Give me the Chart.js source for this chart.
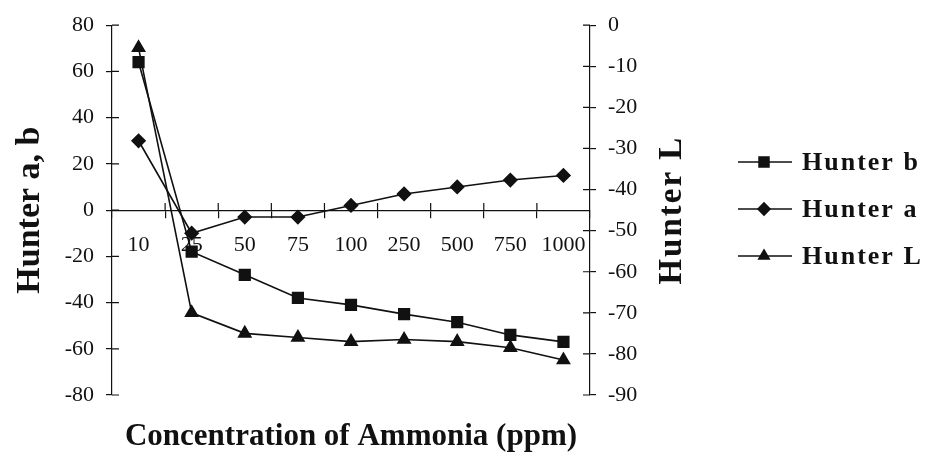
<!DOCTYPE html>
<html>
<head>
<meta charset="utf-8">
<script src="https://cdn.jsdelivr.net/npm/chart.js@4"></script>
<style>
  html, body { margin: 0; padding: 0; background: #fff; }
  #wrap { width: 926px; height: 462px; }
</style>
</head>
<body>
<div id="wrap"><canvas id="hunterChart"></canvas></div>
<script>
const ctx = document.getElementById("hunterChart").getContext("2d");

// Ammonia concentrations (ppm) and Hunter colour values
const concentrations = ["10", "25", "50", "75", "100", "250", "500", "750", "1000"];
const hunterB = [64, -18, -28, -38, -41, -45, -48.5, -54, -57];
const hunterA = [30, -10, -3, -3, 2, 7, 10, 13, 15];
const hunterL = [-5.5, -70, -75, -76, -77, -76.5, -77, -78.5, -81.5];

const serif = "'Liberation Serif', 'Times New Roman', serif";
const ink = "#111";

// ticks crossing the axis lines, right-hand title and the legend box
const extras = {
  id: "extras",
  afterDraw(chart) {
    const { x, y, y2 } = chart.scales;
    const area = chart.chartArea;
    const g = chart.ctx;
    g.save();
    g.strokeStyle = ink;
    g.lineWidth = 1.2;
    g.beginPath();
    y.ticks.forEach((t, i) => {
      const py = y.getPixelForTick(i);
      g.moveTo(y.right, py);
      g.lineTo(y.right + 7, py);
    });
    y2.ticks.forEach((t, i) => {
      const py = y2.getPixelForTick(i);
      g.moveTo(y2.left - 7, py);
      g.lineTo(y2.left, py);
    });
    const zero = y.getPixelForValue(0);
    for (let i = 1; i < concentrations.length; i++) {
      const px = x.getPixelForValue(i - 0.5);
      g.moveTo(px, zero - 7);
      g.lineTo(px, zero);
    }
    g.stroke();

    // right axis title reads bottom-to-top like the left one
    g.save();
    g.fillStyle = ink;
    g.font = "bold 33px " + serif;
    g.letterSpacing = "2px";
    g.textAlign = "center";
    g.textBaseline = "middle";
    g.translate(y2.left + 82, (area.top + area.bottom) / 2);
    g.rotate(-Math.PI / 2);
    g.fillText("Hunter L", 0, 0);
    g.restore();

    // legend: line with marker, then bold label
    const lx = area.right + y2.width + 3;
    chart.data.datasets.forEach((ds, i) => {
      const ly = 162 + i * 47;
      g.strokeStyle = ink;
      g.lineWidth = 1.6;
      g.beginPath();
      g.moveTo(lx, ly);
      g.lineTo(lx + 54, ly);
      g.stroke();
      g.fillStyle = ink;
      Chart.helpers.drawPoint(g, { pointStyle: ds.pointStyle, radius: ds.pointStyle === "rect" ? 7 : 6, borderWidth: 1 }, lx + 26, ly);
      g.fill();
      g.save();
      g.font = "bold 26px " + serif;
      g.letterSpacing = "2px";
      g.textAlign = "left";
      g.textBaseline = "middle";
      g.fillText(ds.label, lx + 64, ly + 1);
      g.restore();
    });
    g.restore();
  },
};

const lineSet = (label, data, style, radius, axis) => ({
  label,
  data,
  yAxisID: axis,
  borderColor: ink,
  backgroundColor: ink,
  borderWidth: 1.6,
  pointStyle: style,
  pointRadius: radius,
  pointBackgroundColor: ink,
  pointBorderColor: ink,
  tension: 0,
});

new Chart(ctx, {
  type: "line",
  data: {
    labels: concentrations,
    datasets: [
      lineSet("Hunter b", hunterB, "rect", 7.5, "y"),
      lineSet("Hunter a", hunterA, "rectRot", 6.5, "y"),
      lineSet("Hunter L", hunterL, "triangle", 7, "y2"),
    ],
  },
  options: {
    responsive: true,
    maintainAspectRatio: false,
    animation: false,
    layout: { padding: { top: 0, right: 191, bottom: 0, left: 0 } },
    scales: {
      x: {
        type: "category",
        position: { y: 0 },
        offset: true,
        grid: { display: true, offset: true, drawOnChartArea: false, tickLength: 7, color: ink, lineWidth: 1.2 },
        border: { display: true, color: ink, width: 1.2 },
        ticks: { color: ink, font: { family: serif, size: 22 }, padding: 15, maxRotation: 0, autoSkip: false },
        afterFit: (s) => { s.height = 0; },
      },
      x2: {
        type: "category",
        position: "bottom",
        labels: concentrations,
        grid: { display: false },
        border: { display: false },
        ticks: { display: false },
        title: {
          display: true,
          text: "Concentration of Ammonia (ppm)",
          color: ink,
          font: { family: serif, size: 31, weight: "bold" },
          padding: { top: 0, bottom: 6 },
        },
        afterFit: (s) => { s.height = 67; },
      },
      y: {
        position: "left",
        min: -80,
        max: 80,
        ticks: { stepSize: 20, color: ink, font: { family: serif, size: 22 }, padding: 12 },
        grid: { drawOnChartArea: false, tickLength: 6, color: ink, lineWidth: 1.2 },
        border: { display: true, color: ink, width: 1.2 },
        title: {
          display: true,
          text: "Hunter a, b",
          color: ink,
          font: { family: serif, size: 34, weight: "bold" },
          padding: { top: 10, bottom: 0 },
        },
        afterFit: (s) => { s.width = 112; },
      },
      y2: {
        position: "right",
        min: -90,
        max: 0,
        ticks: { stepSize: 10, color: ink, font: { family: serif, size: 22 }, padding: 12 },
        grid: { drawOnChartArea: false, tickLength: 6, color: ink, lineWidth: 1.2 },
        border: { display: true, color: ink, width: 1.2 },
        afterFit: (s) => { s.width = 145; },
      },
    },
    plugins: {
      legend: { display: false },
      tooltip: { enabled: false },
    },
  },
  plugins: [extras],
});
</script>
</body>
</html>
